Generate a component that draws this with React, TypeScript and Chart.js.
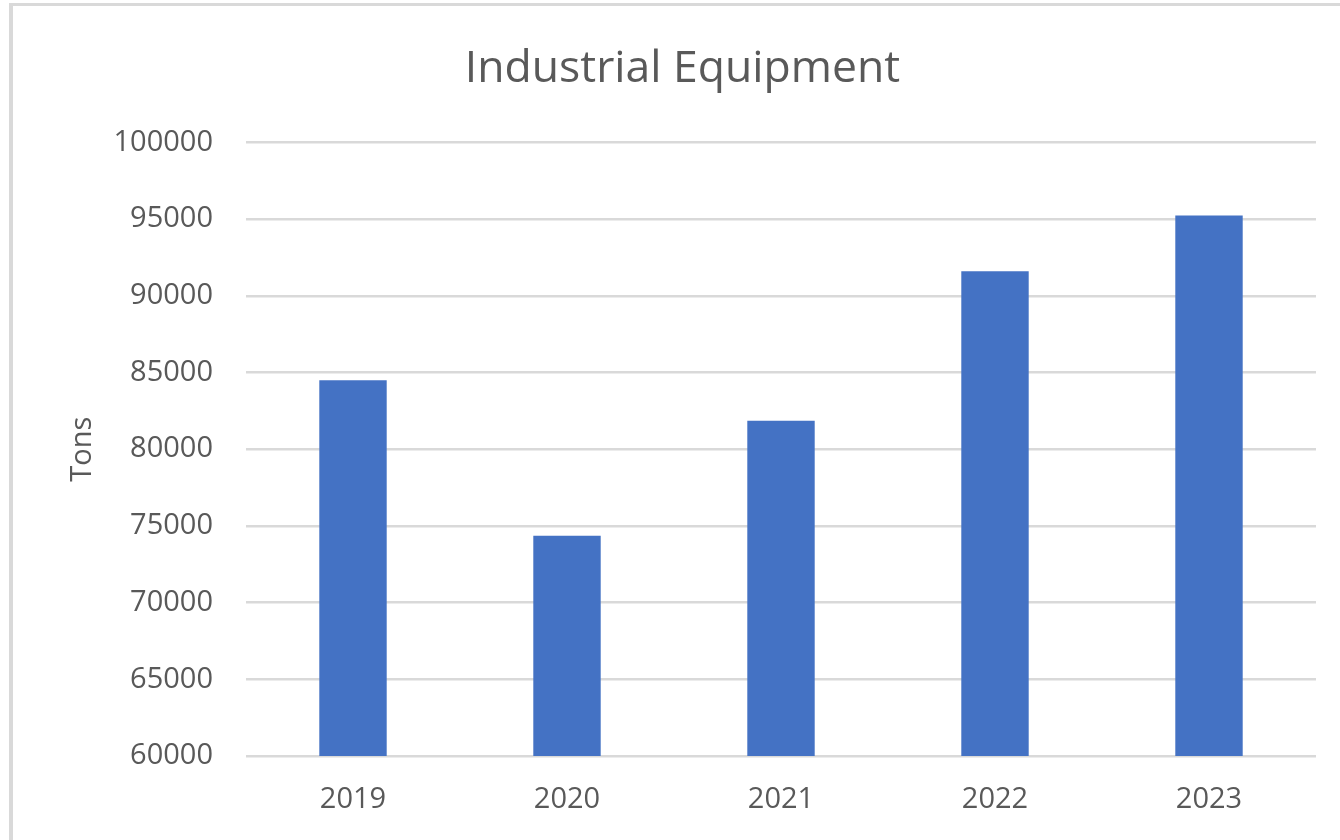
import React, { useEffect, useRef } from "react";
import { Chart, registerables } from "chart.js";

Chart.register(...registerables);

const categories: string[] = ["2019", "2020", "2021", "2022", "2023"];
const tonsValues: number[] = [84500, 74350, 81850, 91600, 95230];
const yMin = 60000;
const yMax = 100000;
const yStep = 5000;

const FONT = "'Open Sans', 'Noto Sans', sans-serif";
const TEXT = "#595959";
const GRID = "#d9d9d9";

export default function App() {
  const ref = useRef<HTMLCanvasElement | null>(null);

  useEffect(() => {
    document.body.style.margin = "0";
    const canvas = ref.current;
    if (!canvas) return;
    const chart = new Chart(canvas, {
      type: "bar",
      data: {
        labels: categories,
        datasets: [
          {
            label: "Tons",
            data: tonsValues,
            backgroundColor: "#4472C4",
            borderWidth: 0,
            categoryPercentage: 1,
            barPercentage: 0.315,
          },
        ],
      },
      options: {
        animation: false,
        responsive: false,
        devicePixelRatio: 1,
        layout: { padding: { left: 49, right: 24, top: 0, bottom: 0 } },
        plugins: {
          legend: { display: false },
          tooltip: { enabled: false },
          title: {
            display: true,
            text: "Industrial Equipment",
            color: TEXT,
            font: { family: FONT, size: 44.5, weight: "normal" },
            padding: { top: 43, bottom: 46 },
          },
        },
        scales: {
          x: {
            grid: { display: false, drawTicks: false },
            border: { display: false },
            ticks: {
              color: TEXT,
              font: { family: FONT, size: 29 },
              padding: 26,
            },
            afterFit: (s: any) => {
              s.height = 84;
            },
          },
          y: {
            min: yMin,
            max: yMax,
            grid: { color: GRID, lineWidth: 2.5, drawTicks: false },
            border: { display: false },
            ticks: {
              stepSize: yStep,
              color: TEXT,
              font: { family: FONT, size: 29 },
              padding: 33,
              callback: (v: any) => String(v),
            },
            title: {
              display: true,
              text: "Tons",
              color: TEXT,
              font: { family: FONT, size: 29 },
              padding: { top: 16, bottom: 0 },
            },
            afterFit: (s: any) => {
              s.width = 197;
            },
          },
        },
      },
    });
    return () => chart.destroy();
  }, []);

  return (
    <div style={{ position: "fixed", left: 0, top: 0, width: 1340, height: 840, background: "#ffffff", overflow: "hidden" }}>
      <div
        style={{
          position: "absolute",
          left: 9,
          top: 3,
          width: 1400,
          height: 900,
          borderLeft: "4px solid #d9d9d9",
          borderTop: "3px solid #d9d9d9",
        }}
      />
      <canvas ref={ref} width={1340} height={840} style={{ position: "absolute", left: 0, top: 0, width: 1340, height: 840 }} />
    </div>
  );
}
